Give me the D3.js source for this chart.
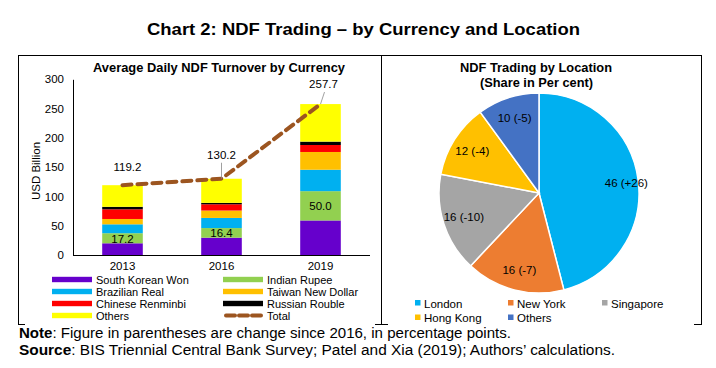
<!DOCTYPE html>
<html><head><meta charset="utf-8">
<script src="https://cdn.jsdelivr.net/npm/d3@7"></script>
<style>
body{margin:0;background:#fff;}
svg{display:block;font-family:"Liberation Sans",Arial,sans-serif;}
</style></head>
<body><svg id="c" width="716" height="368"></svg>
<script>
const years = ["2013","2016","2019"];
const currencies = ["South Korean Won","Indian Rupee","Brazilian Real","Taiwan New Dollar","Chinese Renminbi","Russian Rouble","Others"];
const currencyColors = ["#6600CC","#92D050","#00B0F0","#FFC000","#FF0000","#000000","#FFFF00"];
const krw = [20, 29.6, 59];
const inr = [17.2, 16.4, 50.0];
const brl = [15.2, 17.3, 36.6];
const twd = [9.1, 12.6, 30.3];
const cny = [16.5, 10.7, 11.9];
const rub = [4.3, 2.4, 5.8];
const others = [36.9, 41.2, 64.1];
const totals = [119.2, 130.2, 257.7];
const yTicks = [0,50,100,150,200,250,300];

const locations = ["London","New York","Singapore","Hong Kong","Others"];
const shares = [46,16,16,12,10];
const changes = ["+26","-7","-10","-4","-5"];
const locColors = ["#00B0F0","#ED7D31","#A5A5A5","#FFC000","#4472C4"];

const svg = d3.select("#c");

// frames
const fr = svg.append("g").attr("stroke","#000").attr("stroke-width",1).attr("fill","none");
fr.append("line").attr("x1",18).attr("x2",702).attr("y1",55.5).attr("y2",55.5);
[18.5,381.5,701.5].forEach(x=>fr.append("line").attr("x1",x).attr("x2",x).attr("y1",55).attr("y2",325));
fr.append("line").attr("x1",18).attr("x2",25).attr("y1",324.5).attr("y2",324.5);
fr.append("line").attr("x1",375).attr("x2",388).attr("y1",324.5).attr("y2",324.5);
fr.append("line").attr("x1",694).attr("x2",702).attr("y1",324.5).attr("y2",324.5);

// main title
svg.append("text").attr("x",147).attr("y",35)
  .attr("font-weight","bold").attr("font-size",17)
  .attr("textLength",433).attr("lengthAdjust","spacingAndGlyphs")
  .text("Chart 2: NDF Trading – by Currency and Location");

// ---- Bar chart ----
svg.append("text").attr("x",93).attr("y",72)
  .attr("font-weight","bold").attr("font-size",12.5)
  .attr("textLength",252).attr("lengthAdjust","spacingAndGlyphs")
  .text("Average Daily NDF Turnover by Currency");

const x = d3.scaleBand().domain(years).range([73,370]).paddingInner(0.59).paddingOuter(0.295);
const y = d3.scaleLinear().domain([0,300]).range([255,79.3]);

const rows = years.map((yr,i)=>({year:yr, "South Korean Won":krw[i],"Indian Rupee":inr[i],"Brazilian Real":brl[i],
  "Taiwan New Dollar":twd[i],"Chinese Renminbi":cny[i],"Russian Rouble":rub[i],"Others":others[i]}));
const stack = d3.stack().keys(currencies)(rows);
const gb = svg.append("g");
stack.forEach((s,k)=>{
  gb.selectAll(null).data(s).enter().append("rect")
    .attr("x",d=>x(d.data.year)).attr("width",x.bandwidth())
    .attr("y",d=>y(d[1])).attr("height",d=>y(d[0])-y(d[1]))
    .attr("fill",currencyColors[k]);
});

// axes
const ya = svg.append("g").attr("transform","translate(73,0)")
  .call(d3.axisLeft(y).tickValues(yTicks).tickSize(0).tickPadding(9));
ya.select(".domain").attr("stroke","#000");
ya.selectAll("text").attr("font-size",11.5).attr("fill","#000").attr("font-family","Liberation Sans,Arial,sans-serif");
const xa = svg.append("g").attr("transform","translate(0,255)")
  .call(d3.axisBottom(x).tickSize(0).tickPadding(7));
xa.select(".domain").attr("stroke","#000").attr("d","M73,0.5H370");
xa.selectAll("text").attr("font-size",11.5).attr("fill","#000").attr("font-family","Liberation Sans,Arial,sans-serif");

svg.append("text").attr("transform","translate(40,171) rotate(-90)").attr("text-anchor","middle")
  .attr("font-size",11.5).text("USD Billion");

// INR labels
years.forEach((yr,i)=>{
  svg.append("text").attr("x",x(yr)+x.bandwidth()/2).attr("y",y(krw[i]+inr[i]/2)+4.5)
    .attr("text-anchor","middle").attr("font-size",11.5).text(inr[i].toFixed(1));
});

// total line
const cx = yr=>x(yr)+x.bandwidth()/2;
svg.append("path").datum(totals)
  .attr("d",d3.line().x((d,i)=>cx(years[i])).y(d=>y(d)))
  .attr("fill","none").attr("stroke","#9C5520").attr("stroke-width",4)
  .attr("stroke-dasharray","9,6").attr("stroke-linecap","round");

// total labels
const lblOff = [[5,-14],[0,-20],[3,-16]];
totals.forEach((t,i)=>{
  const px = cx(years[i]), py = y(t);
  const lx = px+lblOff[i][0], ly = py+lblOff[i][1];
  if(i>0){
    svg.append("line").attr("x1",px).attr("y1",py).attr("x2",lx+ (i==2?1:0)).attr("y2",ly+4)
      .attr("stroke","#888").attr("stroke-width",0.8);
  }
  svg.append("text").attr("x",lx).attr("y",ly).attr("text-anchor","middle")
    .attr("font-size",11.5).text(t.toFixed(1));
});

// bar legend
const legItems = [
  {n:"South Korean Won",c:currencyColors[0]},{n:"Indian Rupee",c:currencyColors[1]},
  {n:"Brazilian Real",c:currencyColors[2]},{n:"Taiwan New Dollar",c:currencyColors[3]},
  {n:"Chinese Renminbi",c:currencyColors[4]},{n:"Russian Rouble",c:currencyColors[5]},
  {n:"Others",c:currencyColors[6]},{n:"Total",c:null}];
legItems.forEach((it,i)=>{
  const col = i%2, row = Math.floor(i/2);
  const lx = col? 223:52, ly = 279.5+row*12;
  if(it.c){
    svg.append("rect").attr("x",lx).attr("y",ly-2.7).attr("width",40).attr("height",5.4).attr("fill",it.c);
  } else {
    svg.append("line").attr("x1",lx+3).attr("x2",lx+38).attr("y1",ly).attr("y2",ly)
      .attr("stroke","#9C5520").attr("stroke-width",4).attr("stroke-dasharray","9,4").attr("stroke-linecap","round");
  }
  svg.append("text").attr("x",lx+44).attr("y",ly+4).attr("font-size",11).text(it.n);
});

// ---- Pie ----
svg.append("text").attr("x",460).attr("y",72)
  .attr("font-weight","bold").attr("font-size",12.5)
  .attr("textLength",152).attr("lengthAdjust","spacingAndGlyphs").text("NDF Trading by Location");
svg.append("text").attr("x",480).attr("y",87)
  .attr("font-weight","bold").attr("font-size",12.5)
  .attr("textLength",113).attr("lengthAdjust","spacingAndGlyphs").text("(Share in Per cent)");

const R = 100;
const pie = d3.pie().sort(null)(shares);
const arc = d3.arc().innerRadius(0).outerRadius(R);
const lblArc = d3.arc().innerRadius(R*0.79).outerRadius(R*0.79);
const gp = svg.append("g").attr("transform","translate(539,193)");
gp.selectAll("path").data(pie).enter().append("path")
  .attr("d",arc).attr("fill",(d,i)=>locColors[i]).attr("stroke","#fff").attr("stroke-width",1.5);
gp.selectAll("text").data(pie).enter().append("text")
  .attr("transform",(d,i)=>{const c=lblArc.centroid(d); if(i==0)c[0]+=9; return `translate(${c[0]},${c[1]+4})`;})
  .attr("text-anchor","middle").attr("font-size",11.5)
  .text((d,i)=>`${shares[i]} (${changes[i]})`);

// pie legend
const pl = [[420,303],[513,303],[607,303],[420,317.5],[513,317.5]];
locations.forEach((n,i)=>{
  svg.append("rect").attr("x",pl[i][0]-5).attr("y",pl[i][1]-3).attr("width",5.5).attr("height",5.5).attr("fill",locColors[i]);
  svg.append("text").attr("x",pl[i][0]+4).attr("y",pl[i][1]+4.5).attr("font-size",11.5).text(n);
});

// notes
const n1 = svg.append("text").attr("x",19).attr("y",338).attr("font-size",14)
  .attr("textLength",492).attr("lengthAdjust","spacingAndGlyphs");
n1.append("tspan").attr("font-weight","bold").text("Note");
n1.append("tspan").text(": Figure in parentheses are change since 2016, in percentage points.");
const n2 = svg.append("text").attr("x",19).attr("y",355).attr("font-size",14)
  .attr("textLength",596).attr("lengthAdjust","spacingAndGlyphs");
n2.append("tspan").attr("font-weight","bold").text("Source");
n2.append("tspan").text(": BIS Triennial Central Bank Survey; Patel and Xia (2019); Authors’ calculations.");
</script>
</body></html>
